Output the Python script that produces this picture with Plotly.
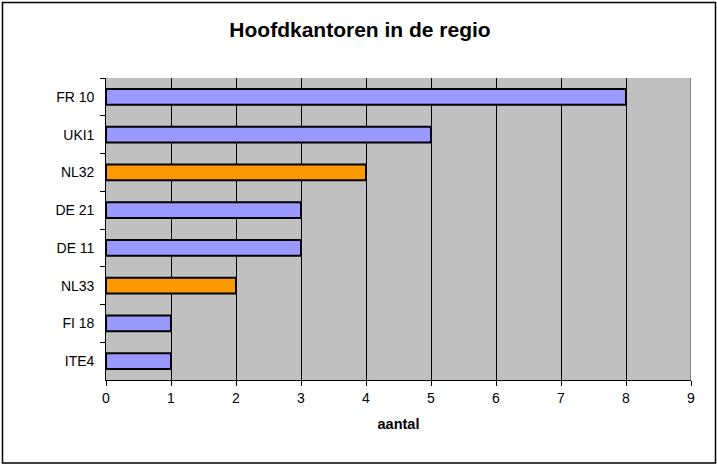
import plotly.graph_objects as go

categories = ["FR 10", "UKI1", "NL32", "DE 21", "DE 11", "NL33", "FI 18", "ITE4"]
values = [8, 5, 4, 3, 3, 2, 1, 1]
highlight = [False, False, True, False, False, True, False, False]
x_ticks = list(range(0, 10))

BLUE = "#9999FF"
ORANGE = "#FF9900"
colors = [ORANGE if h else BLUE for h in highlight]

W, H = 717, 466
ml, mr, mt, mb = 106, 26, 78, 86
pw, ph = W - ml - mr, H - mt - mb

fig = go.Figure(go.Bar(
    y=categories, x=values, orientation="h",
    marker=dict(color=colors, line=dict(color="black", width=2)),
    width=0.42,
))

def px_x(p):
    return (p - ml) / pw

def px_y(p):
    return 1 - (p - mt) / ph

fig.update_layout(
    width=W, height=H,
    margin=dict(l=ml, r=mr, t=mt, b=mb),
    paper_bgcolor="white",
    plot_bgcolor="#C0C0C0",
    font=dict(family="Liberation Sans, Arial, sans-serif", size=14, color="black"),
    title=dict(text="<b>Hoofdkantoren in de regio</b>", x=360 / W, xanchor="center",
               y=1 - 30 / H, yanchor="middle",
               font=dict(size=21, color="black")),
    showlegend=False,
    xaxis=dict(
        range=[0, 9], tickvals=x_ticks, ticktext=[str(v) for v in x_ticks],
        showgrid=True, gridcolor="black", gridwidth=1,
        showline=True, linecolor="black", linewidth=1,
        ticks="outside", ticklen=5, tickcolor="black",
        zeroline=False, fixedrange=True,
        title=dict(text="<b>aantal</b>", font=dict(size=14.5), standoff=14),
        tickfont=dict(size=14),
    ),
    yaxis=dict(
        autorange="reversed", type="category",
        showgrid=False, showline=True, linecolor="black", linewidth=1,
        ticks="outside", ticklen=5, tickcolor="black", tickson="boundaries",
        ticksuffix="  ", tickfont=dict(size=14), fixedrange=True,
    ),
    shapes=[
        dict(type="line", xref="x", yref="paper", x0=9, x1=9, y0=0, y1=1,
             line=dict(color="#808080", width=2)),
        dict(type="rect", xref="paper", yref="paper",
             x0=px_x(2.5), x1=px_x(715.5), y0=px_y(2.5), y1=px_y(463),
             line=dict(color="black", width=1.5), fillcolor="rgba(0,0,0,0)",
             layer="above"),
    ],
)

fig.write_html("out.html", config={"displayModeBar": False},
               post_script="document.body.style.margin='0';")
